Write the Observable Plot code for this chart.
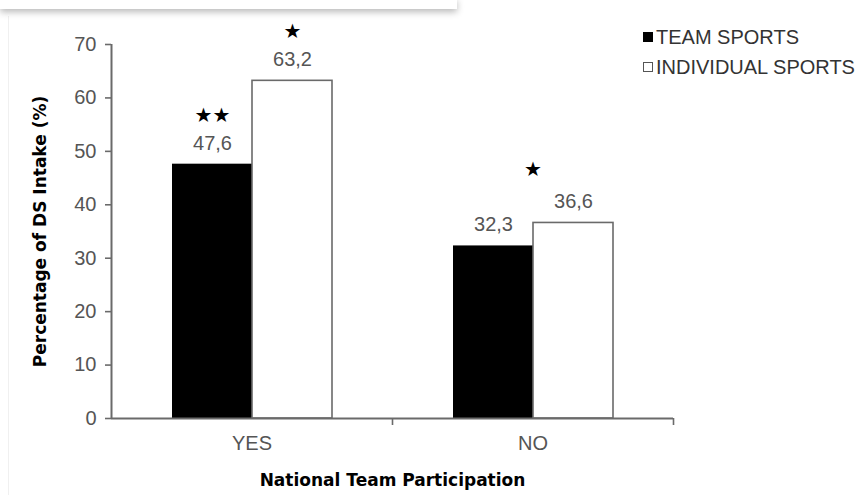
<!DOCTYPE html>
<html>
<head>
<meta charset="utf-8">
<script src="https://cdn.jsdelivr.net/npm/d3@7"></script>
<script src="https://cdn.jsdelivr.net/npm/@observablehq/plot@0.6"></script>
<style>
  html, body { margin: 0; padding: 0; background: #fff; }
  #wrap { position: relative; width: 858px; height: 495px; overflow: hidden; }
  #topbox { position: absolute; left: 0; top: -2px; width: 457px; height: 11px; background: #fff;
            box-shadow: 0 3px 7px rgba(0,0,0,0.28); }
  #edge { position: absolute; left: 8px; top: 16px; width: 1px; height: 479px; background: #f0f0f0; }
  #legend { position: absolute; left: 643px; top: 22px; font-family: "Liberation Sans", Arial, sans-serif;
            font-size: 20px; color: #333; line-height: 30px; }
  .item { display: flex; align-items: center; white-space: nowrap; }
  .sw { width: 10px; height: 10px; box-sizing: border-box; margin-right: 3px; }
</style>
</head>
<body>
<div id="wrap">
  <div id="edge"></div>
  <div id="topbox"></div>
  <div id="chart"></div>
  <div id="legend"></div>
</div>
<script>
const categories = ["YES", "NO"];
const series = ["TEAM SPORTS", "INDIVIDUAL SPORTS"];
const teamSports = [47.6, 32.3];
const individualSports = [63.2, 36.6];
const teamStars = ["★★", ""];
const individualStars = ["★", ""];
const groupStars = ["", "★"];
const yTicks = [0, 10, 20, 30, 40, 50, 60, 70];
const seriesFill = ["#000000", "#ffffff"];

const data = categories.flatMap((c, i) => [
  {category: c, series: series[0], value: teamSports[i], star: teamStars[i]},
  {category: c, series: series[1], value: individualSports[i], star: individualStars[i]}
]);
const groupData = categories.map((c, i) => ({
  category: c, value: Math.max(teamSports[i], individualSports[i]), star: groupStars[i]
}));
const fmt = v => String(v).replace(".", ",");

const W = 858, H = 495, ML = 111, MR = 185, MT = 44, MB = 77;
const halfStep = (W - ML - MR) / categories.length / 2;
const axisGray = "#6a6a6a";

const chart = Plot.plot({
  width: W, height: H,
  marginLeft: ML, marginRight: MR, marginTop: MT, marginBottom: MB,
  style: {fontFamily: "'Liberation Sans', Arial, sans-serif", fontSize: "20px", color: "#555", background: "transparent"},
  fx: {domain: categories, paddingInner: 0, paddingOuter: 0, label: null},
  x: {domain: series, paddingInner: 0, paddingOuter: 0.756, axis: null},
  y: {domain: [0, 70], label: null},
  color: {domain: series, range: seriesFill},
  marks: [
    Plot.axisY({ticks: yTicks, tickSize: 6, tickPadding: 9, stroke: axisGray, strokeWidth: 1.6, fill: "#555", label: null}),
    Plot.axisFx({anchor: "bottom", tickSize: 0, tickPadding: 17, fill: "#555", label: null}),
    Plot.axisFx({anchor: "bottom", text: null, tickSize: 7, dx: halfStep, stroke: axisGray, strokeWidth: 1.6, label: null}),
    Plot.barY(data.filter(d => d.series === series[0]), {fx: "category", x: "series", y: "value", fill: "series"}),
    Plot.barY(data.filter(d => d.series === series[1]), {fx: "category", x: "series", y: "value", fill: "series", stroke: axisGray, strokeWidth: 1.6}),
    Plot.ruleY([0], {stroke: axisGray, strokeWidth: 1.8}),
    Plot.ruleX([0], {fx: [categories[0]], x: null, y1: 0, y2: yTicks[yTicks.length - 1], dx: -halfStep, stroke: axisGray, strokeWidth: 2}),
    Plot.text(data, {fx: "category", x: "series", y: "value", text: d => fmt(d.value), dy: -21, fill: "#555"}),
    Plot.text(data, {fx: "category", x: "series", y: "value", text: "star", dy: -49, fill: "#000",
      fontFamily: "'DejaVu Sans', sans-serif", fontSize: 20}),
    Plot.text(groupData, {fx: "category", y: "value", text: "star", dy: -53, fill: "#000",
      fontFamily: "'DejaVu Sans', sans-serif", fontSize: 20}),
    Plot.text(["Percentage of DS Intake (%)"], {fx: [categories[0]], frameAnchor: "left", textAnchor: "middle",
      rotate: -90, dx: -71, fontWeight: "bold", fontFamily: "'DejaVu Sans', sans-serif", fontSize: 17, fill: "#000"}),
    Plot.text(["National Team Participation"], {fx: [categories[0]], frameAnchor: "bottom-right", textAnchor: "middle",
      dy: 67, fontWeight: "bold", fontFamily: "'DejaVu Sans', sans-serif", fontSize: 17, fill: "#000"})
  ]
});
document.getElementById("chart").appendChild(chart);

const legend = d3.select("#legend");
series.forEach((s, i) => {
  const it = legend.append("div").attr("class", "item");
  it.append("div").attr("class", "sw")
    .style("background", seriesFill[i])
    .style("border", i === 0 ? "1px solid #000" : "1px solid #555");
  it.append("span").text(s);
});
</script>
</body>
</html>
